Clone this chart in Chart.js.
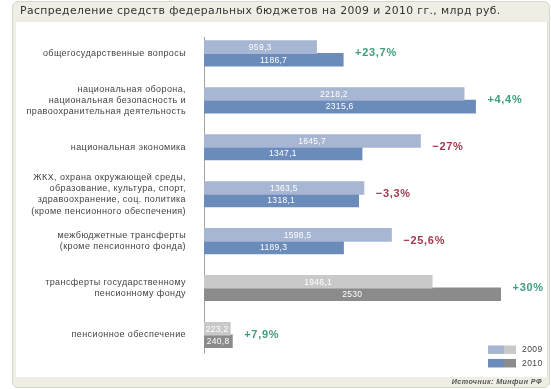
<!DOCTYPE html>
<html><head><meta charset="utf-8">
<script src="https://cdn.jsdelivr.net/npm/chart.js@4.4.1/dist/chart.umd.min.js"></script>
<style>
html,body{margin:0;padding:0;background:#fff;}
#wrap{position:relative;width:551px;height:389px;overflow:hidden;}
#frame{position:absolute;left:12px;top:1px;width:536px;height:385px;background:#efeee4;border:1px solid #d8d7cd;border-radius:6px;}
#panel{position:absolute;left:16px;top:22px;width:532px;height:355px;background:#fff;border-right:1px solid #dcdcd6;box-sizing:border-box;}
canvas{position:absolute;left:0;top:0;}
</style></head>
<body><div id="wrap"><div id="frame"></div><div id="panel"></div><canvas id="c" width="551" height="389"></canvas></div>
<script>
const titleText = 'Распределение средств федеральных бюджетов на 2009 и 2010 гг., млрд руб.';
const sourceText = 'Источник: Минфин РФ';
const categories = [
  ['общегосударственные вопросы'],
  ['национальная оборона,', 'национальная безопасность и', 'правоохранительная деятельность'],
  ['национальная экономика'],
  ['ЖКХ, охрана окружающей среды,', 'образование, культура, спорт,', 'здравоохранение, соц. политика', '(кроме пенсионного обеспечения)'],
  ['межбюджетные трансферты', '(кроме пенсионного фонда)'],
  ['трансферты государственному', 'пенсионному фонду'],
  ['пенсионное обеспечение']
];
const seriesNames = ['2009', '2010'];
const values2009 = [959.3, 2218.2, 1845.7, 1363.5, 1598.5, 1946.1, 223.2];
const values2010 = [1186.7, 2315.6, 1347.1, 1318.1, 1189.3, 2530, 240.8];
const changeLabels = ['+23,7%', '+4,4%', '−27%', '−3,3%', '−25,6%', '+30%', '+7,9%'];
const pensionRelated = [false, false, false, false, false, true, true];
const xMax = 2884;

const BLUE = ['#a6b6d3', '#6b8bba'];
const GRAY = ['#c9c9c9', '#8b8b8b'];

const fmt = v => String(v).replace('.', ',');

const spacingPlugin = {
  id: 'spacing',
  beforeUpdate(chart) { chart.ctx.letterSpacing = '0.4px'; },
  beforeDraw(chart) { chart.ctx.letterSpacing = '0.4px'; }
};

const axisLinePlugin = {
  id: 'axisLine',
  beforeDatasetsDraw(chart) {
    const {ctx, chartArea} = chart;
    ctx.save();
    ctx.strokeStyle = '#a3a3a3';
    ctx.lineWidth = 1;
    ctx.beginPath();
    ctx.moveTo(chartArea.left + 0.5, chartArea.top + 7);
    ctx.lineTo(chartArea.left + 0.5, chartArea.bottom - 5);
    ctx.stroke();
    ctx.restore();
  }
};

const labelsPlugin = {
  id: 'barLabels',
  afterDatasetsDraw(chart) {
    const {ctx} = chart;
    ctx.save();
    ctx.textBaseline = 'middle';
    ctx.textAlign = 'center';
    ctx.letterSpacing = '0.3px';
    ctx.font = '8.5px "Liberation Sans"';
    chart.data.datasets.forEach((ds, di) => {
      const meta = chart.getDatasetMeta(di);
      meta.data.forEach((bar, i) => {
        ctx.fillStyle = '#ffffff';
        ctx.fillText(fmt(ds.data[i]), (bar.base + bar.x) / 2, bar.y + 0.5);
      });
    });
    const m0 = chart.getDatasetMeta(0), m1 = chart.getDatasetMeta(1);
    ctx.textAlign = 'left';
    ctx.letterSpacing = '0.7px';
    ctx.font = 'bold 11px "Liberation Sans"';
    changeLabels.forEach((t, i) => {
      const b0 = m0.data[i], b1 = m1.data[i];
      const x = Math.max(b0.x, b1.x) + 12;
      const y = (b0.y + b1.y) / 2;
      ctx.fillStyle = t.startsWith('+') ? '#3e9e78' : '#a33a4d';
      ctx.fillText(t, x, y);
    });
    // legend
    const {chartArea} = chart;
    const lx = chartArea.right - 54;
    ctx.letterSpacing = '0.4px';
    ctx.font = '8.5px "Liberation Sans"';
    seriesNames.forEach((name, k) => {
      const ly = chartArea.bottom - 13 + k * 13.5;
      ctx.fillStyle = BLUE[k];
      ctx.fillRect(lx, ly, 16, 8.5);
      ctx.fillStyle = GRAY[k];
      ctx.fillRect(lx + 16, ly, 12, 8.5);
      ctx.fillStyle = '#444';
      ctx.fillText(name, lx + 34, ly + 4.5);
    });
    ctx.restore();
  }
};

new Chart(document.getElementById('c'), {
  type: 'bar',
  data: {
    labels: categories,
    datasets: seriesNames.map((name, k) => ({
      label: name,
      data: k === 0 ? values2009 : values2010,
      backgroundColor: c => (pensionRelated[c.dataIndex] ? GRAY[k] : BLUE[k]),
      borderWidth: 0,
      inflateAmount: 0.5,
      categoryPercentage: 0.535,
      barPercentage: 1
    }))
  },
  options: {
    indexAxis: 'y',
    responsive: false,
    animation: false,
    layout: {padding: {left: 20, right: 9, top: 0, bottom: 0}},
    scales: {
      x: {display: false, min: 0, max: xMax},
      y: {
        grid: {display: false, drawTicks: false},
        border: {display: false},
        ticks: {
          autoSkip: false,
          padding: 18,
          color: '#444',
          font: {family: '"Liberation Sans"', size: 9, lineHeight: 1.25}
        },
        afterFit(scale) { scale.width = 184; }
      }
    },
    plugins: {
      legend: {display: false},
      tooltip: {enabled: false},
      title: {
        display: true,
        text: titleText,
        align: 'start',
        color: '#333',
        font: {family: '"DejaVu Sans"', size: 10.8, weight: 'normal', lineHeight: 1.2},
        padding: {top: 5, bottom: 12}
      },
      subtitle: {
        display: true,
        position: 'bottom',
        text: sourceText,
        align: 'end',
        color: '#555',
        font: {family: '"Liberation Sans"', size: 7.2, weight: 'bold', style: 'italic', lineHeight: 1.2},
        padding: {top: 19.5, bottom: 2.4}
      }
    }
  },
  plugins: [spacingPlugin, axisLinePlugin, labelsPlugin]
});
</script>
</body></html>
